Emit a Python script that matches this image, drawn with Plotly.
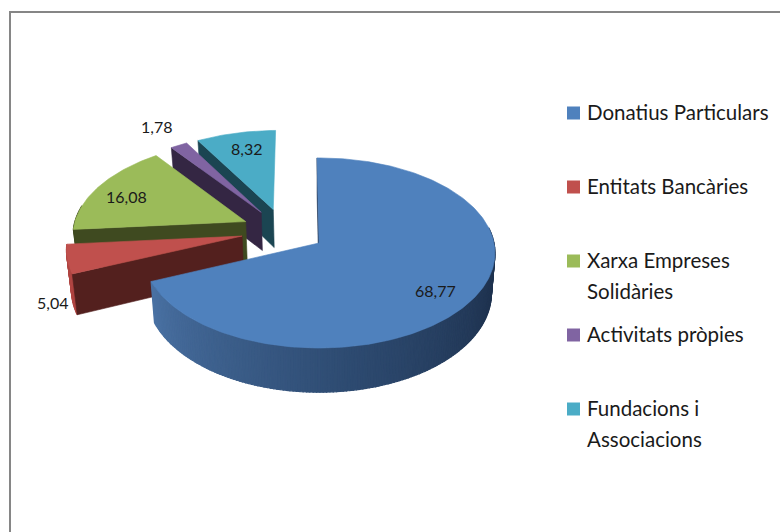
import numpy as np
import plotly.graph_objects as go

categories = ["Donatius Particulars", "Entitats Bancàries", "Xarxa Empreses<br>Solidàries",
              "Activitats pròpies", "Fundacions i<br>Associacions"]
values = [68.77, 5.04, 16.08, 1.78, 8.32]
top_colors = ["#4F81BD", "#C0504D", "#9BBB59", "#8064A2", "#4BACC6"]
wall_colors = ["#1F3350", "#53201E", "#3F4A20", "#342643", "#1B4552"]
arc_colors = ["#1F3350", "#B04542", "#3F4A20", "#342643", "#1B4552"]

# Pie projection settings
CX, CY, SX, SY, PERSP = 319, 243, 175, 94, 0.105
DEPTH, SHRINK, EXPLODE, ROT = 39.5, 0.98, 0.245, -0.7


def project(u, v, low=False):
    w = 1 + PERSP * v
    x = CX + SX * u / w
    y = CY - SY * v / w
    if low:
        x = CX + (x - CX) * SHRINK
        y = y + DEPTH / w
    return x, y


def lerp_hex(a, b, t):
    ca = [int(a[i:i + 2], 16) for i in (1, 3, 5)]
    cb = [int(b[i:i + 2], 16) for i in (1, 3, 5)]
    return "#" + "".join(f"{round(p + (q - p) * t):02x}" for p, q in zip(ca, cb))


def blue_wall(theta):
    if theta > 170:
        return lerp_hex("#2D4A70", "#4A72A4", (theta - 170) / 78)
    if theta > 110:
        return lerp_hex("#1F3350", "#2D4A70", (theta - 110) / 60)
    return "#1F3350"


fig = go.Figure()


def poly(xs, ys, color, width=0.6):
    fig.add_trace(go.Scatter(x=list(xs), y=list(ys), mode="lines", fill="toself", fillcolor=color,
                             line=dict(color=color, width=width), hoverinfo="skip", showlegend=False))


total = sum(values)
edges = np.cumsum([0] + values) / total * 360 + ROT
mids = (edges[:-1] + edges[1:]) / 2
rad = np.radians
base_u = -EXPLODE * np.sin(rad(mids[0]))
base_v = -EXPLODE * np.cos(rad(mids[0]))

for i in [4, 3, 2, 1, 0]:
    ou = base_u + EXPLODE * np.sin(rad(mids[i]))
    ov = base_v + EXPLODE * np.cos(rad(mids[i]))
    t1, t2 = edges[i], edges[i + 1]
    th = np.linspace(t1, t2, max(int(t2 - t1), 3) + 1)
    au = ou + np.sin(rad(th))
    av = ov + np.cos(rad(th))
    tx, ty = project(au, av)
    bx, by = project(au, av, True)
    # outer wall, front-facing part only
    for j in range(len(th) - 1):
        m = (th[j] + th[j + 1]) / 2
        if not 80 <= m <= 280:
            continue
        c = blue_wall(m) if i == 0 else arc_colors[i]
        poly([tx[j], tx[j + 1], bx[j + 1], bx[j], tx[j]],
             [ty[j], ty[j + 1], by[j + 1], by[j], ty[j]], c, 1.2)
    # visible cut face
    ax0, ay0 = project(ou, ov)
    ax1, ay1 = project(ou, ov, True)
    if np.sin(rad(t1)) < 0:
        poly([ax0, tx[0], bx[0], ax1, ax0], [ay0, ty[0], by[0], ay1, ay0], wall_colors[i])
    if np.sin(rad(t2)) > 0:
        poly([ax0, tx[-1], bx[-1], ax1, ax0], [ay0, ty[-1], by[-1], ay1, ay0], wall_colors[i])
    # top face
    poly([ax0, *tx, ax0], [ay0, *ty, ay0], top_colors[i])

# Data labels
label_x = [435, 52, 126, 156, 246]
label_y = [290, 302, 196, 126, 148]
annotations = [dict(x=x, y=y, text=f"{v:.2f}".replace(".", ","), showarrow=False, xref="x", yref="y",
                    xanchor="center", yanchor="middle", font=dict(family="Lato", size=16, color="#1a1a1a"))
               for x, y, v in zip(label_x, label_y, values)]

# Legend
legend_x = 573.5
legend_y = [113, 187, 261, 335, 409]
fig.add_trace(go.Scatter(x=[legend_x] * 5, y=legend_y, mode="markers", hoverinfo="skip", showlegend=False,
                         marker=dict(symbol="square", size=13, color=top_colors)))
for name, y in zip(categories, legend_y):
    for n, line in enumerate(name.split("<br>")):
        annotations.append(dict(x=585, y=y - 1 + 31 * n, text=line, showarrow=False, xref="x", yref="y",
                                xanchor="left", yanchor="middle", align="left",
                                font=dict(family="Lato", size=20.5, color="#1a1a1a")))

fig.update_layout(
    width=780, height=532, autosize=False, margin=dict(l=0, r=0, t=0, b=0),
    paper_bgcolor="white", plot_bgcolor="white",
    xaxis=dict(range=[0, 780], visible=False, fixedrange=True),
    yaxis=dict(range=[532, 0], visible=False, fixedrange=True),
    annotations=annotations,
    shapes=[dict(type="rect", xref="x", yref="y", x0=10, y0=12, x1=800, y1=560,
                 line=dict(color="#868686", width=2), layer="below")],
)
fig.write_html("out.html", config={"displayModeBar": False},
               post_script="document.body.style.margin='0';document.body.style.overflow='hidden';")
